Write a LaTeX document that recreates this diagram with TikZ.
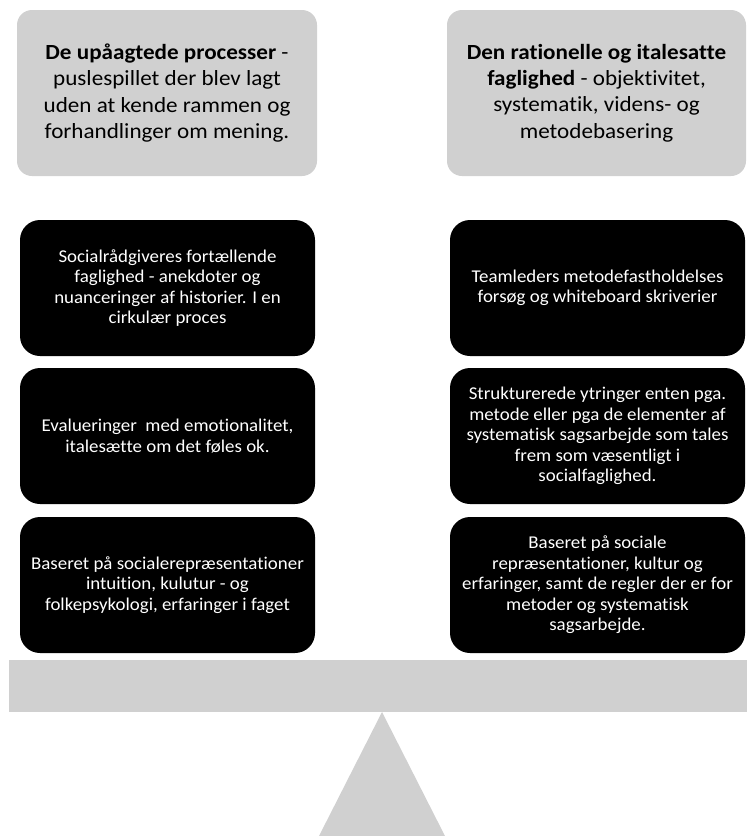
\documentclass[tikz,border=0pt]{standalone}
\usepackage{fontspec}
\setmainfont{Carlito}[Ligatures=NoCommon]
\newfontfamily\topfont{Carlito}[FakeStretch=1.07,Ligatures=NoCommon]
\newfontfamily\blkfont{Carlito}[FakeStretch=1.05,Ligatures=NoCommon]
\definecolor{lg}{HTML}{D0D0D0}
\begin{document}
\begin{tikzpicture}[x=1pt,y=-1pt,
  topbox/.style={fill=lg, rounded corners=15pt, inner sep=0pt, align=center,
    font=\topfont\fontsize{21.6}{26.3}\selectfont, text=black, minimum height=166pt},
  blackbox/.style={fill=black, rounded corners=20pt, inner sep=0pt, align=center,
    font=\blkfont\fontsize{18}{20.5}\selectfont, text=white, minimum width=295pt, minimum height=136pt}]
\clip (0,0) rectangle (747,836);
\node[topbox, minimum width=300pt] (tl) at (167,93) {\textbf{De upåagtede processer} -\\puslespillet der blev lagt\\uden at kende rammen og\\forhandlinger om mening.};
\node[topbox, minimum width=299pt] (tr) at (596.5,93) {\textbf{Den rationelle og italesatte}\\\textbf{faglighed} - objektivitet,\\systematik, videns- og\\metodebasering};
\node[blackbox] (l1) at (167.5,288) {Socialrådgiveres fortællende\\faglighed - anekdoter og\\nuanceringer af historier. I en\\cirkulær proces};
\node[blackbox] (l2) at (167.5,436) {Evalueringer\ \ med emotionalitet,\\italesætte om det føles ok.};
\node[blackbox] (l3) at (167.5,585) {Baseret på socialerepræsentationer\\intuition, kulutur - og\\folkepsykologi, erfaringer i faget};
\node[blackbox] (r1) at (597.5,288) {Teamleders metodefastholdelses\\forsøg og whiteboard skriverier};
\node[blackbox] (r2) at (597.5,436) {Strukturerede ytringer enten pga.\\metode eller pga de elementer af\\systematisk sagsarbejde som tales\\frem som væsentligt i\\socialfaglighed.};
\node[blackbox] (r3) at (597.5,585) {Baseret på sociale\\repræsentationer, kultur og\\erfaringer, samt de regler der er for\\metoder og systematisk\\sagsarbejde.};
\node[fill=lg, inner sep=0pt, minimum width=738pt, minimum height=52pt] (bar) at (378,686) {};
\fill[lg] (382,712) -- (319,836) -- (445,836) -- cycle;
\end{tikzpicture}
\end{document}
